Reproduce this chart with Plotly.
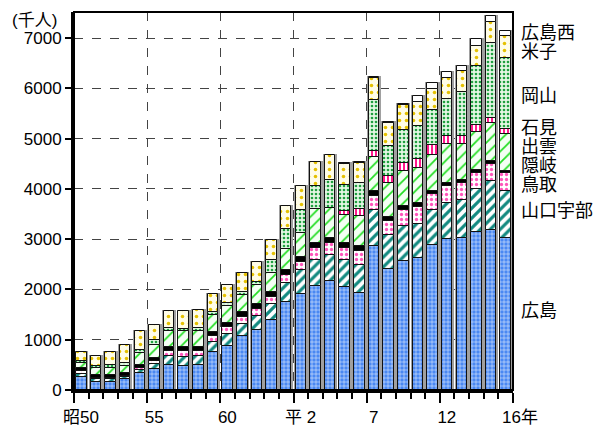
import numpy as np
import plotly.graph_objects as go

# Years: 昭和50 (1975) .. 平成16 (2004)
YEARS = list(range(1975, 2005))
TICK_POS = [0, 5, 10, 15, 20, 25, 30]
TICK_LABELS = ["昭50", "55", "60", "平 2", "7", "12", "16年"]

# passengers (千人), bottom to top of each stack
hiroshima   = [262, 155, 155, 222, 341, 421, 507, 487, 500, 759, 871, 1070, 1203, 1388, 1746, 1918,
               2077, 2163, 2044, 1932, 2859, 2415, 2561, 2628, 2893, 3005, 3025, 3137, 3177, 3025]
yamaguchi   = [66, 54, 54, 40, 53, 106, 165, 173, 172, 191, 252, 252, 278, 332, 385, 478,
               517, 531, 550, 563, 729, 663, 696, 676, 682, 716, 748, 863, 974, 927]
tottori     = [45, 30, 26, 26, 47, 45, 99, 111, 113, 120, 133, 133, 133, 133, 165, 145,
               233, 232, 233, 264, 279, 278, 331, 330, 325, 344, 346, 318, 352, 366]
oki         = [63, 60, 60, 60, 60, 68, 80, 80, 80, 90, 80, 90, 90, 90, 90, 100,
               100, 100, 99, 100, 85, 87, 80, 87, 66, 54, 66, 52, 46, 46]
izumo       = [105, 142, 146, 139, 238, 264, 318, 318, 318, 341, 331, 353, 393, 387, 421, 484,
               675, 596, 563, 596, 684, 676, 682, 696, 716, 775, 709, 763, 763, 729]
iwami       = [None] * 18 + [66, 147, 125, 132, 167, 179, 199, 152, 165, 145, 99, 100]
okayama     = [45, 46, 53, 54, 66, 86, 67, 54, 53, 53, 66, 54, 46, 250, 397, 449,
               450, 549, 530, 517, 1014, 596, 662, 662, 695, 743, 861, 1159, 1491, 1411]
yonago      = [173, 185, 258, 350, 364, 312, 331, 344, 351, 364, 364, 378, 398, 412, 450, 491,
               485, 511, 412, 398, 432, 465, 483, 471, 412, 418, 418, 412, 410, 429]
hiroshima_w = [None] * 18 + [20, 26, 19, 20, 20, 112, 119, 111, 113, 133, 133, 100]

SERIES = [
    ("広島", hiroshima),
    ("山口宇部", yamaguchi),
    ("鳥取", tottori),
    ("隠岐", oki),
    ("出雲", izumo),
    ("石見", iwami),
    ("岡山", okayama),
    ("米子", yonago),
    ("広島西", hiroshima_w),
]

# right-side label levels (千人)
LABEL_LEVELS = {"広島西": 7097, "米子": 6729, "岡山": 5855, "石見": 5219, "出雲": 4841,
                "隠岐": 4463, "鳥取": 4085, "山口宇部": 3568, "広島": 1580}

STYLES = {
    "広島":   dict(color="#4a88f2", pattern=dict(shape="+", fgcolor="#ffffff", bgcolor="#4a88f2", size=4, solidity=0.22, fillmode="replace")),
    "山口宇部": dict(color="#ffffff", pattern=dict(shape="/", fgcolor="#138a80", bgcolor="#ffffff", size=7, solidity=0.45, fillmode="replace")),
    "鳥取":   dict(color="#ffffff", pattern=dict(shape=".", fgcolor="#ff55bb", bgcolor="#ffffff", size=5, solidity=0.35, fillmode="replace")),
    "隠岐":   dict(color="#000000"),
    "出雲":   dict(color="#f4fff4", pattern=dict(shape="/", fgcolor="#22dd22", bgcolor="#f4fff4", size=8, solidity=0.22, fillmode="replace")),
    "石見":   dict(color="#ffffff", pattern=dict(shape="|", fgcolor="#ff1a8c", bgcolor="#ffffff", size=4, solidity=0.5, fillmode="replace")),
    "岡山":   dict(color="#e4f7e4", pattern=dict(shape=".", fgcolor="#1fa040", bgcolor="#e4f7e4", size=4, solidity=0.35, fillmode="replace")),
    "米子":   dict(color="#fffde8", pattern=dict(shape=".", fgcolor="#e5c100", bgcolor="#fffde8", size=7, solidity=0.2, fillmode="replace")),
    "広島西": dict(color="#ffffff"),
}

FONT = "Liberation Sans, Arial, Noto Sans CJK JP, sans-serif"

x = np.arange(len(YEARS)) + 0.5
vals = [np.array([0 if v is None else v for v in s], dtype=float) for _, s in SERIES]
cum = np.cumsum(vals, axis=0)
totals = cum[-1]

fig = go.Figure()
# gray outline behind each stack
fig.add_trace(go.Bar(x=x, y=totals, base=0, width=0.84,
                     marker=dict(color="#ffffff", line=dict(color="#a0a0a0", width=2)),
                     showlegend=False, hoverinfo="skip"))

for i, (name, s) in enumerate(SERIES):
    base = cum[i] - vals[i]
    yv = [None if v is None else v for v in s]
    st = STYLES[name]
    marker = dict(color=st["color"], line=dict(color="#111111", width=1))
    if "pattern" in st:
        marker["pattern"] = st["pattern"]
    fig.add_trace(go.Bar(x=x, y=yv, base=base, width=0.72, name=name,
                         marker=marker, showlegend=False))

for name, lvl in LABEL_LEVELS.items():
    fig.add_annotation(x=1.0137, xref="paper", y=lvl, yref="y", text=name,
                       showarrow=False, xanchor="left", yanchor="middle",
                       font=dict(family=FONT, size=18, color="#000"))

fig.add_annotation(x=-0.145, xref="paper", y=1.008, yref="paper", text="(千人)",
                   showarrow=False, xanchor="left", yanchor="top",
                   font=dict(family=FONT, size=17, color="#000"))

# frame
fig.add_shape(type="rect", xref="paper", yref="paper", x0=0, y0=0, x1=1, y1=1,
              line=dict(color="#000", width=2), layer="above")

# page body has an 8px default margin, so the figure is sized/offset to compensate
fig.update_layout(
    width=597, height=422,
    margin=dict(l=66, r=92, t=4, b=40, autoexpand=False),
    paper_bgcolor="white", plot_bgcolor="white",
    barmode="overlay", bargap=0,
    font=dict(family=FONT, size=17, color="#000"),
    showlegend=False,
)
fig.update_xaxes(range=[0, 30], tickvals=TICK_POS, ticktext=TICK_LABELS,
                 ticks="outside", ticklen=10, tickwidth=2, tickcolor="#000",
                 ticklabelshift=7,
                 minor=dict(dtick=1, tick0=0, ticks="outside", ticklen=6, tickwidth=2, tickcolor="#000", showgrid=False),
                 showgrid=True, gridcolor="#444", griddash="dash", gridwidth=1,
                 showline=True, linecolor="#000", linewidth=3, zeroline=False,
                 tickfont=dict(size=17), automargin=False)
fig.update_yaxes(range=[0, 7520], tickvals=[0, 1000, 2000, 3000, 4000, 5000, 6000, 7000],
                 ticks="outside", ticklen=6, tickwidth=2, tickcolor="#000",
                 showgrid=True, gridcolor="#444", griddash="dash", gridwidth=1,
                 showline=True, linecolor="#000", linewidth=3, zeroline=False,
                 tickfont=dict(size=17), automargin=False)

fig.write_html("out.html")
